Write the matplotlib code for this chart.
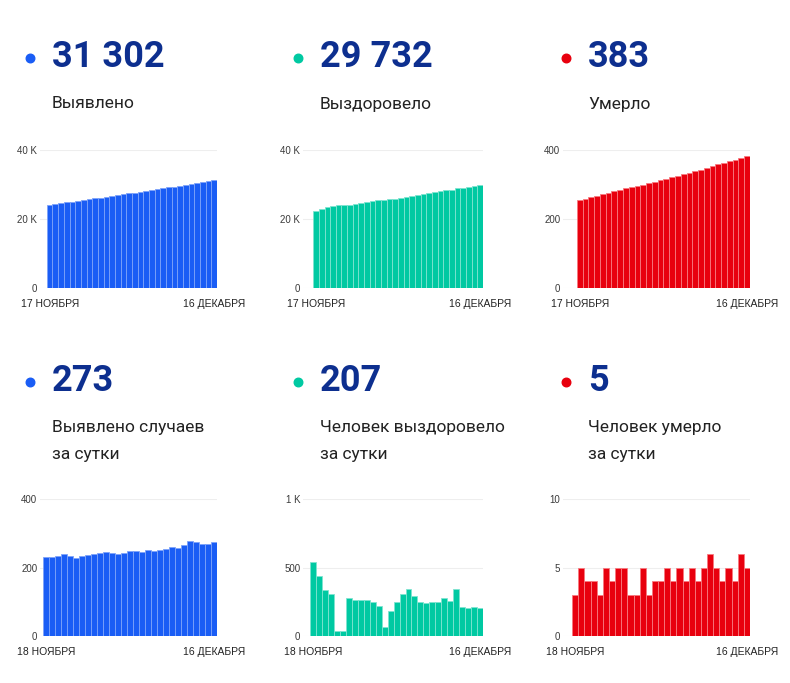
import matplotlib
matplotlib.use('Agg')
import matplotlib.pyplot as plt

plt.rcParams['font.family'] = ['Roboto', 'DejaVu Sans']

BLUE = '#1a5df5'
TEAL = '#00c9a2'
RED = '#e8000e'
NAVY = '#0d2f8f'
GRID = '#eeeeee'

# cumulative, 17 Nov - 16 Dec
total_cases = [24094, 24324, 24556, 24791, 25029, 25264, 25492, 25725, 25962, 26200,
               26442, 26687, 26930, 27170, 27413, 27660, 27908, 28153, 28403, 28651,
               28903, 29158, 29418, 29675, 29940, 30218, 30491, 30761, 31029, 31302]
total_recovered = [22370, 22910, 23345, 23680, 23985, 24025, 24065, 24345, 24610, 24870,
                   25135, 25380, 25600, 25665, 25850, 26095, 26400, 26745, 27040, 27285,
                   27525, 27770, 28015, 28295, 28550, 28895, 29105, 29310, 29525, 29732]
total_deaths = [256, 259, 264, 268, 272, 275, 280, 284, 289, 294,
                297, 300, 305, 308, 312, 316, 321, 325, 330, 334,
                339, 343, 348, 354, 359, 363, 368, 372, 378, 383]

# daily, 18 Nov - 16 Dec
daily_cases = [230, 232, 235, 238, 235, 228, 233, 237, 238, 242, 245, 243, 240, 243, 247,
               248, 245, 250, 248, 252, 255, 260, 257, 265, 278, 273, 270, 268, 273]
daily_recovered = [540, 435, 335, 305, 40, 40, 280, 265, 260, 265, 245, 220, 65, 185, 245,
                   305, 345, 295, 245, 240, 245, 245, 280, 255, 345, 210, 205, 215, 207]
daily_deaths = [3, 5, 4, 4, 3, 5, 4, 5, 5, 3, 3, 5, 3, 4, 4,
                5, 4, 5, 4, 5, 4, 5, 6, 5, 4, 5, 4, 6, 5]

big_numbers = ['31 302', '29 732', '383', '273', '207', '5']
captions = ['Выявлено', 'Выздоровело', 'Умерло',
            'Выявлено случаев\nза сутки', 'Человек выздоровело\nза сутки', 'Человек умерло\nза сутки']
first_dates = ['17 НОЯБРЯ', '18 НОЯБРЯ']
last_date = '16 ДЕКАБРЯ'

y_ticks = [[0, 20000, 40000], [0, 20000, 40000], [0, 200, 400],
           [0, 200, 400], [0, 500, 1000], [0, 5, 10]]
y_ticklabels = [['0', '20 K', '40 K'], ['0', '20 K', '40 K'], ['0', '200', '400'],
                ['0', '200', '400'], ['0', '500', '1 K'], ['0', '5', '10']]

series = [total_cases, total_recovered, total_deaths, daily_cases, daily_recovered, daily_deaths]
colors = [BLUE, TEAL, RED, BLUE, TEAL, RED]
edge_colors = ['#7ea3f9', '#80e4d0', '#f77a80', '#7ea3f9', '#80e4d0', '#f77a80']

W, H = 790, 683
fig = plt.figure(figsize=(W / 100, H / 100), dpi=100)

# pixel layout of the panels: (x0, x1, y_top, y_bottom, left pad in bars)
boxes = [(40, 217, 150, 288, 1.2), (303, 483, 150, 288, 1.8), (563, 750, 150, 288, 2.4),
         (40, 217, 499, 636, 0.5), (303, 483, 499, 636, 1.2), (563, 750, 499, 636, 1.5)]

small_font = ['Liberation Sans', 'DejaVu Sans']

for i, (vals, color) in enumerate(zip(series, colors)):
    x0, x1, yt, yb, pad = boxes[i]
    ax = fig.add_axes([x0 / W, 1 - yb / H, (x1 - x0) / W, (yb - yt) / H])
    n = len(vals)
    ax.bar(range(n), vals, width=1.0, color=color, edgecolor=edge_colors[i],
           linewidth=0.6, zorder=2)
    ax.set_xlim(-0.5 - pad, n - 0.5)
    ax.set_ylim(0, y_ticks[i][-1])
    ax.set_yticks(y_ticks[i])
    ax.set_yticklabels(y_ticklabels[i], family=small_font)
    ax.set_xticks([0, n - 1])
    ax.set_xticklabels([first_dates[i // 3], last_date], family=small_font)
    ax.grid(axis='y', color=GRID, linewidth=0.8, zorder=0)
    for s in ax.spines.values():
        s.set_visible(False)
    ax.tick_params(axis='y', length=0, pad=2, labelsize=7, labelcolor='#3a3a3a')
    ax.tick_params(axis='x', length=0, pad=8, labelsize=7.5, labelcolor='#222222')

# headers
ov = fig.add_axes([0, 0, 1, 1])
ov.set_xlim(0, W)
ov.set_ylim(H, 0)
ov.axis('off')

col_x = [52, 320, 588]
num_y = [57, 381]
cap_y = [104, 441]
for i in range(6):
    cx = col_x[i % 3]
    r = i // 3
    ov.scatter([cx - 22], [num_y[r] + 1], s=38, color=colors[i], zorder=3)
    ov.text(cx, num_y[r], big_numbers[i], fontsize=26, fontweight='bold', color=NAVY,
            ha='left', va='center')
    ov.text(cx, cap_y[r], captions[i], fontsize=12.5, color='#222222',
            ha='left', va='center', linespacing=1.95)

fig.savefig('out.png', dpi=100)
